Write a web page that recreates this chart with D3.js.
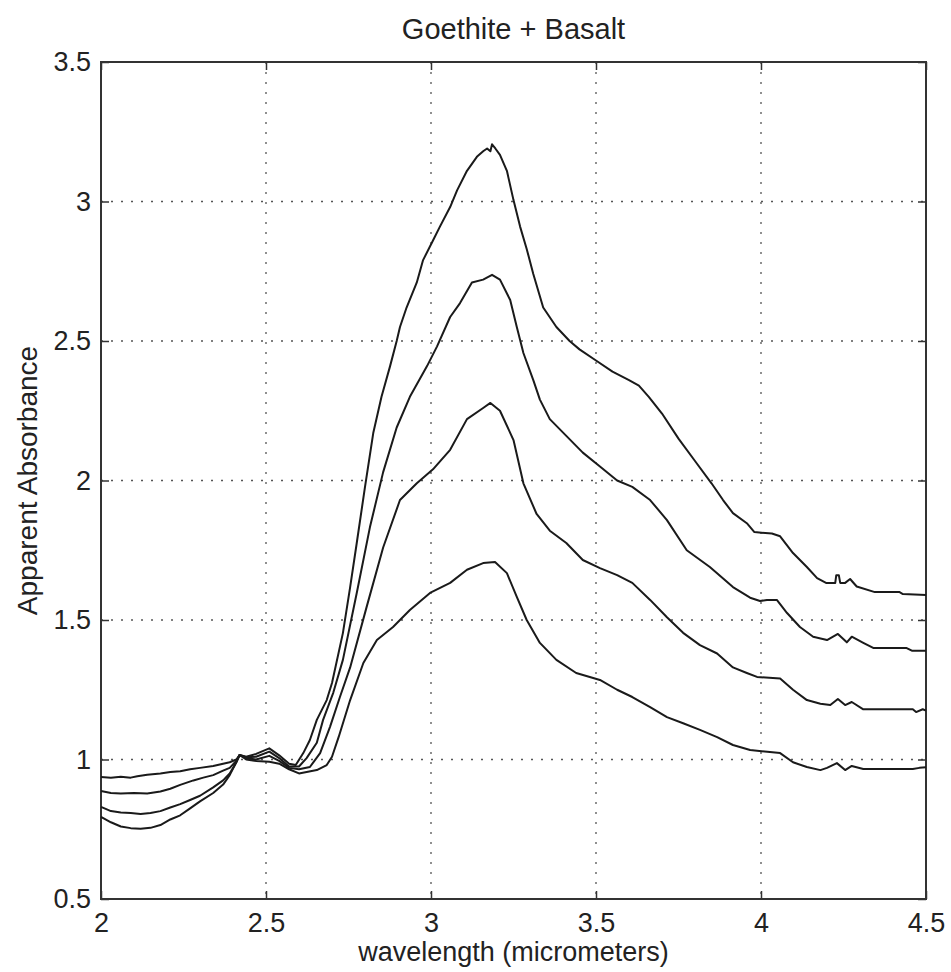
<!DOCTYPE html>
<html>
<head>
<meta charset="utf-8">
<script src="https://cdn.jsdelivr.net/npm/d3@7"></script>
<style>
  body { margin: 0; background: #fff; }
  text { font-family: "Liberation Sans", Arial, sans-serif; fill: #222; }
</style>
</head>
<body>
<svg></svg>
<script>
// Tick values on both axes
const xTicks = [2, 2.5, 3, 3.5, 4, 4.5];
const yTicks = [0.5, 1, 1.5, 2, 2.5, 3, 3.5];

// Spectra (wavelength in micrometers, apparent absorbance)
const waveA = [2.00, 2.03, 2.06, 2.09, 2.12, 2.15, 2.18, 2.21, 2.24, 2.27, 2.30, 2.34, 2.37, 2.39, 2.41, 2.42, 2.44, 2.47, 2.51, 2.54, 2.57, 2.59, 2.613, 2.633, 2.654, 2.684, 2.70, 2.733, 2.755, 2.775, 2.80, 2.825, 2.85, 2.876, 2.896, 2.906, 2.926, 2.957, 2.976, 3.006, 3.027, 3.058, 3.079, 3.109, 3.139, 3.158, 3.17, 3.18, 3.185, 3.195, 3.209, 3.23, 3.25, 3.27, 3.29, 3.31, 3.34, 3.38, 3.42, 3.45, 3.50, 3.55, 3.60, 3.63, 3.66, 3.70, 3.75, 3.80, 3.85, 3.885, 3.915, 3.957, 3.98, 4.033, 4.058, 4.097, 4.139, 4.17, 4.197, 4.225, 4.228, 4.236, 4.24, 4.255, 4.27, 4.29, 4.345, 4.42, 4.43, 4.5];
const absA  = [0.794, 0.775, 0.76, 0.754, 0.752, 0.755, 0.765, 0.785, 0.80, 0.825, 0.85, 0.88, 0.91, 0.944, 0.99, 1.016, 1.01, 1.02, 1.04, 1.015, 0.985, 0.98, 1.023, 1.07, 1.142, 1.213, 1.274, 1.453, 1.618, 1.776, 1.977, 2.17, 2.30, 2.41, 2.50, 2.55, 2.62, 2.71, 2.79, 2.86, 2.91, 2.98, 3.04, 3.11, 3.16, 3.18, 3.19, 3.18, 3.205, 3.19, 3.167, 3.11, 3.005, 2.91, 2.83, 2.74, 2.62, 2.55, 2.50, 2.47, 2.43, 2.39, 2.36, 2.34, 2.30, 2.24, 2.15, 2.07, 1.99, 1.93, 1.883, 1.847, 1.815, 1.81, 1.80, 1.74, 1.69, 1.65, 1.633, 1.633, 1.66, 1.66, 1.633, 1.633, 1.647, 1.62, 1.60, 1.60, 1.593, 1.59];

const waveB = [2.00, 2.03, 2.06, 2.09, 2.12, 2.15, 2.18, 2.21, 2.24, 2.27, 2.30, 2.34, 2.37, 2.39, 2.41, 2.42, 2.44, 2.47, 2.51, 2.54, 2.57, 2.60, 2.623, 2.654, 2.673, 2.704, 2.733, 2.775, 2.815, 2.855, 2.896, 2.936, 2.988, 3.018, 3.058, 3.088, 3.124, 3.158, 3.185, 3.209, 3.24, 3.26, 3.28, 3.31, 3.33, 3.36, 3.41, 3.46, 3.512, 3.564, 3.61, 3.664, 3.715, 3.775, 3.845, 3.915, 3.967, 3.997, 4.018, 4.048, 4.079, 4.118, 4.158, 4.2, 4.233, 4.26, 4.275, 4.31, 4.34, 4.44, 4.457, 4.5];
const absB  = [0.83, 0.815, 0.81, 0.808, 0.805, 0.808, 0.815, 0.828, 0.84, 0.855, 0.87, 0.90, 0.925, 0.95, 0.99, 1.016, 1.008, 1.01, 1.028, 1.005, 0.975, 0.975, 1.005, 1.06, 1.142, 1.24, 1.357, 1.597, 1.833, 2.03, 2.19, 2.30, 2.41, 2.48, 2.586, 2.636, 2.71, 2.72, 2.737, 2.72, 2.647, 2.55, 2.457, 2.36, 2.29, 2.22, 2.16, 2.10, 2.05, 2.0, 1.977, 1.93, 1.858, 1.75, 1.69, 1.618, 1.58, 1.568, 1.572, 1.572, 1.525, 1.475, 1.44, 1.428, 1.45, 1.42, 1.44, 1.418, 1.40, 1.40, 1.39, 1.39];

const waveC = [2.00, 2.03, 2.06, 2.10, 2.14, 2.18, 2.21, 2.24, 2.28, 2.31, 2.34, 2.37, 2.39, 2.41, 2.42, 2.44, 2.47, 2.51, 2.54, 2.57, 2.60, 2.633, 2.664, 2.694, 2.724, 2.755, 2.805, 2.855, 2.906, 2.957, 3.006, 3.058, 3.109, 3.158, 3.18, 3.209, 3.25, 3.28, 3.32, 3.36, 3.41, 3.46, 3.512, 3.564, 3.61, 3.664, 3.715, 3.764, 3.815, 3.867, 3.915, 3.957, 3.988, 4.058, 4.097, 4.139, 4.18, 4.21, 4.233, 4.255, 4.275, 4.31, 4.46, 4.47, 4.49, 4.5];
const absC  = [0.887, 0.88, 0.878, 0.88, 0.878, 0.885, 0.895, 0.909, 0.925, 0.935, 0.944, 0.96, 0.97, 0.995, 1.016, 1.005, 1.0, 1.013, 0.995, 0.97, 0.965, 0.973, 1.023, 1.117, 1.224, 1.33, 1.547, 1.76, 1.93, 1.99, 2.04, 2.11, 2.22, 2.26, 2.278, 2.25, 2.145, 1.99, 1.88, 1.82, 1.776, 1.715, 1.686, 1.661, 1.633, 1.572, 1.51, 1.454, 1.41, 1.38, 1.33, 1.31, 1.296, 1.29, 1.25, 1.213, 1.20, 1.195, 1.217, 1.195, 1.206, 1.18, 1.18, 1.17, 1.18, 1.175];

const waveD = [2.00, 2.03, 2.06, 2.09, 2.11, 2.14, 2.18, 2.21, 2.24, 2.27, 2.30, 2.34, 2.37, 2.39, 2.41, 2.42, 2.44, 2.47, 2.51, 2.54, 2.57, 2.60, 2.654, 2.684, 2.70, 2.72, 2.755, 2.795, 2.836, 2.885, 2.936, 2.997, 3.058, 3.109, 3.158, 3.194, 3.23, 3.26, 3.29, 3.33, 3.38, 3.44, 3.512, 3.564, 3.61, 3.664, 3.715, 3.764, 3.815, 3.867, 3.915, 3.967, 4.027, 4.058, 4.097, 4.139, 4.18, 4.2, 4.23, 4.255, 4.275, 4.31, 4.46, 4.48, 4.5];
const absD  = [0.937, 0.935, 0.938, 0.935, 0.94, 0.945, 0.95, 0.955, 0.958, 0.965, 0.97, 0.977, 0.985, 0.99, 1.0, 1.016, 1.0, 0.995, 0.992, 0.985, 0.965, 0.95, 0.962, 0.98, 1.01, 1.08, 1.213, 1.346, 1.428, 1.475, 1.536, 1.597, 1.633, 1.68, 1.704, 1.708, 1.668, 1.583, 1.50, 1.418, 1.357, 1.31, 1.285, 1.25, 1.224, 1.188, 1.152, 1.13, 1.106, 1.08, 1.052, 1.034, 1.027, 1.023, 0.99, 0.973, 0.962, 0.97, 0.987, 0.962, 0.977, 0.966, 0.966, 0.97, 0.972];

const series = [[waveA, absA], [waveB, absB], [waveC, absC], [waveD, absD]]
  .map(([w, a]) => w.map((d, i) => ({w: d, a: a[i]})));

const W = 951, H = 972;
const margin = {top: 62, right: 25, bottom: 73, left: 101},
    width = W - margin.left - margin.right,
    height = H - margin.top - margin.bottom;

const svg = d3.select("svg")
    .attr("width", W)
    .attr("height", H)
  .append("g")
    .attr("transform", `translate(${margin.left},${margin.top})`);

const x = d3.scaleLinear().domain([2, 4.5]).range([0, width]);
const y = d3.scaleLinear().domain([0.5, 3.5]).range([height, 0]);

// Dotted grid
svg.append("g")
  .selectAll("line")
  .data(xTicks.slice(1, -1))
  .join("line")
    .attr("x1", d => x(d)).attr("x2", d => x(d))
    .attr("y1", 0).attr("y2", height)
    .attr("stroke", "#555").attr("stroke-width", 1.3)
    .attr("stroke-dasharray", "2,8");

svg.append("g")
  .selectAll("line")
  .data(yTicks.slice(1, -1))
  .join("line")
    .attr("x1", 0).attr("x2", width)
    .attr("y1", d => y(d)).attr("y2", d => y(d))
    .attr("stroke", "#555").attr("stroke-width", 1.3)
    .attr("stroke-dasharray", "2,8");

// Axes with inward ticks
const styleAxis = g => {
  g.select(".domain").remove();
  g.selectAll(".tick line").attr("stroke", "#333").attr("stroke-width", 1.5);
  g.selectAll(".tick text").style("font-size", "27px").attr("fill", "#222");
};

svg.append("g")
    .attr("transform", `translate(0,${height})`)
    .call(d3.axisBottom(x).tickValues(xTicks).tickSize(-8).tickPadding(14).tickFormat(d3.format("")))
    .call(styleAxis);

svg.append("g")
    .call(d3.axisLeft(y).tickValues(yTicks).tickSize(-8).tickPadding(10).tickFormat(d3.format("")))
    .call(styleAxis);

svg.append("g")
    .call(d3.axisTop(x).tickValues(xTicks).tickSize(-8).tickFormat(""))
    .call(styleAxis);

svg.append("g")
    .attr("transform", `translate(${width},0)`)
    .call(d3.axisRight(y).tickValues(yTicks).tickSize(-8).tickFormat(""))
    .call(styleAxis);

// Frame
svg.append("rect")
    .attr("width", width).attr("height", height)
    .attr("fill", "none").attr("stroke", "#333").attr("stroke-width", 2);

// Spectra
const line = d3.line().x(d => x(d.w)).y(d => y(d.a));

svg.append("g")
  .selectAll("path")
  .data(series)
  .join("path")
    .attr("d", line)
    .attr("fill", "none")
    .attr("stroke", "#1a1a1a")
    .attr("stroke-width", 2)
    .attr("stroke-linejoin", "round");

// Labels
svg.append("text")
    .attr("x", width / 2)
    .attr("y", -23)
    .style("text-anchor", "middle")
    .style("font-size", "29px")
    .text("Goethite + Basalt");

svg.append("text")
    .attr("x", width / 2)
    .attr("y", height + 62)
    .style("text-anchor", "middle")
    .style("font-size", "27px")
    .text("wavelength (micrometers)");

svg.append("text")
    .attr("x", -height / 2)
    .attr("y", -margin.left + 37)
    .attr("transform", "rotate(-90)")
    .style("text-anchor", "middle")
    .style("font-size", "28px")
    .text("Apparent Absorbance");
</script>
</body>
</html>
